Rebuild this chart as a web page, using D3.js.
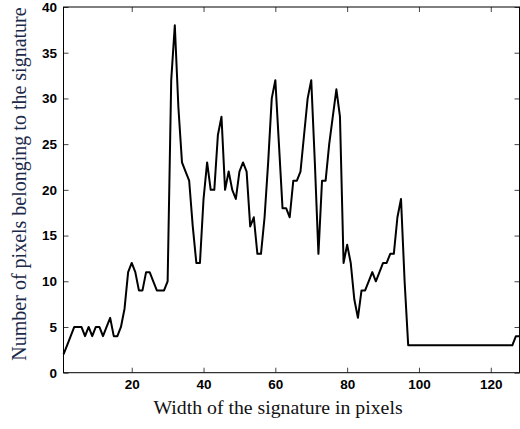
<!DOCTYPE html>
<html>
<head>
<meta charset="utf-8">
<script src="https://cdn.jsdelivr.net/npm/d3@7/dist/d3.min.js"></script>
<style>
  body { margin: 0; background: #fff; }
  .tick text { font-family: "Liberation Sans", Arial, sans-serif; font-weight: bold; font-size: 13.5px; fill: #000; }
  .tick line { stroke: #444; }
</style>
</head>
<body>
<script>
// nombre de pixels par colonne (x = 1..128)
const pixelCounts = [
  2, 3, 4, 5, 5, 5, 4, 5, 4, 5,
  5, 4, 5, 6, 4, 4, 5, 7, 11, 12,
  11, 9, 9, 11, 11, 10, 9, 9, 9, 10,
  32, 38, 29, 23, 22, 21, 16, 12, 12, 19,
  23, 20, 20, 26, 28, 20, 22, 20, 19, 22,
  23, 22, 16, 17, 13, 13, 17, 23, 30, 32,
  25, 18, 18, 17, 21, 21, 22, 26, 30, 32,
  23, 13, 21, 21, 25, 28, 31, 28, 12, 14,
  12, 8, 6, 9, 9, 10, 11, 10, 11, 12,
  12, 13, 13, 17, 19, 10, 3, 3, 3, 3,
  3, 3, 3, 3, 3, 3, 3, 3, 3, 3,
  3, 3, 3, 3, 3, 3, 3, 3, 3, 3,
  3, 3, 3, 3, 3, 3, 4, 4
];
const xTicks = [20, 40, 60, 80, 100, 120];
const yTicks = [0, 5, 10, 15, 20, 25, 30, 35, 40];

const tableau = pixelCounts.map((v, i) => ({ w: i + 1, n: v }));

// marges
const W = 520, H = 429;
const mLeft = 63.5, mRight = 519.5, mTop = 7, mBottom = 372.7;

const svg = d3.select("body").append("svg")
  .attr("width", W)
  .attr("height", H);

const x = d3.scaleLinear().domain([1, 128]).range([mLeft, mRight]);
const y = d3.scaleLinear().domain([0, 40]).range([mBottom, mTop]);

// axes (ticks vers l'intérieur, comme matlab)
svg.append("g")
  .attr("transform", "translate(0," + mBottom + ")")
  .call(d3.axisBottom(x).tickValues(xTicks).tickSize(-5).tickSizeOuter(0).tickPadding(7))
  .call(g => g.select(".domain").remove());

svg.append("g")
  .attr("transform", "translate(" + mLeft + ",0)")
  .call(d3.axisLeft(y).tickValues(yTicks).tickSize(-5).tickSizeOuter(0).tickPadding(6.5))
  .call(g => g.select(".domain").remove());

// ticks du haut et de droite
svg.append("g")
  .attr("transform", "translate(0," + mTop + ")")
  .call(d3.axisTop(x).tickValues(xTicks).tickSize(-5).tickSizeOuter(0).tickFormat(""))
  .call(g => g.select(".domain").remove());

svg.append("g")
  .attr("transform", "translate(" + mRight + ",0)")
  .call(d3.axisRight(y).tickValues(yTicks).tickSize(-5).tickSizeOuter(0).tickFormat(""))
  .call(g => g.select(".domain").remove());

// cadre
svg.append("rect")
  .attr("x", mLeft)
  .attr("y", mTop)
  .attr("width", mRight - mLeft)
  .attr("height", mBottom - mTop)
  .attr("fill", "none")
  .attr("stroke", "#000")
  .attr("stroke-width", 1);

// la courbe
svg.append("path")
  .datum(tableau)
  .attr("fill", "none")
  .attr("stroke", "#000")
  .attr("stroke-width", 2)
  .attr("stroke-linejoin", "round")
  .attr("d", d3.line()
    .x(d => x(d.w))
    .y(d => y(d.n)));

// labels
svg.append("text")
  .text("Width of the signature in pixels")
  .attr("x", 278)
  .attr("y", 414)
  .attr("text-anchor", "middle")
  .style("font-family", "'Liberation Serif', 'Times New Roman', serif")
  .style("font-size", "19.8px")
  .style("fill", "#111");

svg.append("text")
  .text("Number of pixels belonging to the signature")
  .attr("transform", "translate(26,184) rotate(-90)")
  .attr("text-anchor", "middle")
  .style("font-family", "'Liberation Serif', 'Times New Roman', serif")
  .style("font-size", "20px")
  .style("fill", "#1c2a4a");
</script>
</body>
</html>
